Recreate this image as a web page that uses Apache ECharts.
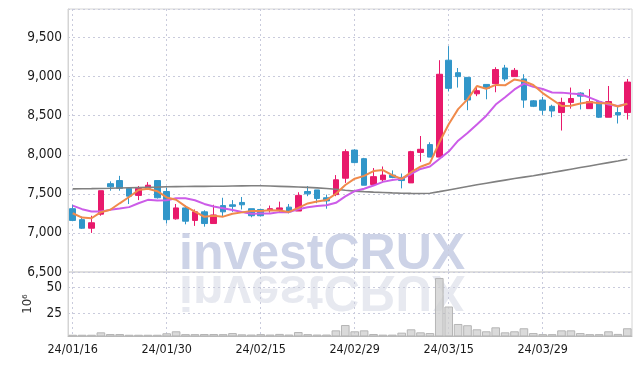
<!DOCTYPE html>
<html><head><meta charset="utf-8">
<script src="https://cdn.jsdelivr.net/npm/echarts@6/dist/echarts.min.js"></script>
<style>html,body{margin:0;padding:0;background:#fff}#c{width:642px;height:366px}</style>
</head><body><div id="c"></div>
<script>
const dates = ['24/01/16','24/01/17','24/01/18','24/01/19','24/01/22','24/01/23','24/01/24','24/01/25','24/01/26','24/01/29',
'24/01/30','24/01/31','24/02/01','24/02/02','24/02/05','24/02/06','24/02/07','24/02/08','24/02/13','24/02/14',
'24/02/15','24/02/16','24/02/19','24/02/20','24/02/21','24/02/22','24/02/23','24/02/26','24/02/27','24/02/28',
'24/02/29','24/03/04','24/03/05','24/03/06','24/03/07','24/03/08','24/03/11','24/03/12','24/03/13','24/03/14',
'24/03/15','24/03/18','24/03/19','24/03/20','24/03/21','24/03/22','24/03/25','24/03/26','24/03/27','24/03/28',
'24/03/29','24/04/01','24/04/02','24/04/03','24/04/04','24/04/05','24/04/08','24/04/09','24/04/11','24/04/12'];
const opens  = [7310,7170,7060,7240,7630,7670,7570,7480,7570,7670, 7530,7180,7320,7160,7270,7120,7350,7360,7390,7310,
                7300,7290,7300,7330,7280,7530,7550,7450,7490,7700, 8060,7950,7620,7680,7740,7710,7640,8030,8130,7970,
                9210,9050,8990,8780,8900,8910,9110,9000,8970,8690, 8700,8620,8540,8670,8790,8590,8680,8480,8540,8540];
const closes = [7160,7060,7130,7540,7590,7570,7470,7570,7610,7450, 7170,7320,7150,7270,7120,7230,7270,7340,7360,7220,
                7220,7310,7320,7270,7480,7500,7440,7410,7680,8040, 7900,7610,7720,7740,7710,7670,8040,8070,7970,9030,
                8850,9000,8700,8820,8850,9090,8970,9080,8700,8620, 8570,8560,8670,8720,8750,8680,8480,8680,8510,8930];
const lows   = [7150,7050,7000,7220,7540,7540,7370,7420,7560,7440, 7120,7170,7110,7090,7080,7120,7210,7270,7300,7200,
                7210,7260,7270,7250,7280,7470,7380,7310,7470,7640, 7890,7610,7610,7640,7700,7570,7640,7910,7970,7970,
                8810,8860,8570,8750,8710,8800,8940,9000,8600,8610, 8510,8480,8310,8590,8580,8590,8470,8480,8400,8450];
const highs  = [7360,7210,7220,7540,7660,7730,7580,7600,7650,7670, 7580,7370,7350,7300,7290,7360,7450,7420,7460,7310,
                7310,7350,7400,7370,7520,7600,7550,7490,7740,8070, 8070,7960,7830,7850,7800,7760,8050,8240,8160,9210,
                9390,9110,8990,8880,8900,9120,9150,9110,9030,8700, 8740,8640,8730,8860,8800,8840,8680,8880,8620,8970];
const ma5  = [7252,7196,7188,7265,7296,7379,7460,7549,7564,7534, 7454,7425,7340,7271,7207,7219,7208,7246,7263,7282,
              7279,7289,7286,7269,7321,7377,7402,7420,7501,7613, 7694,7730,7792,7805,7738,7692,7777,7847,7892,8156,
              8391,8584,8708,8879,8845,8894,8888,8964,8940,8893, 8789,8707,8625,8628,8655,8676,8659,8660,8618,8653];
const ma10 = [7350,7304,7273,7273,7295,7312,7330,7380,7423,7415, 7417,7443,7444,7418,7371,7337,7317,7293,7267,7245,
              7249,7248,7266,7266,7302,7328,7345,7353,7385,7467, 7536,7566,7606,7653,7676,7693,7754,7819,7849,7947,
              8041,8180,8278,8386,8500,8642,8736,8836,8910,8869, 8841,8797,8795,8784,8774,8732,8683,8643,8623,8654];
const ma60 = [7564,7566,7567,7569,7571,7574,7577,7580,7583,7586, 7590,7592,7594,7595,7596,7597,7598,7600,7602,7604,
              7604,7600,7596,7592,7588,7583,7576,7568,7558,7546, 7535,7528,7522,7517,7512,7508,7506,7505,7507,7528,
              7550,7572,7594,7616,7636,7656,7676,7696,7714,7732, 7752,7772,7794,7815,7836,7857,7878,7899,7920,7942];
const volumes = [4.4,4.4,4.4,6.7,5.1,5.1,4.4,4.4,4.4,4.4, 5.8,7.7,5.0,5.0,5.1,5.1,5.0,6.0,4.8,4.6,
                 5.0,4.6,5.2,4.6,7.0,5.0,4.6,4.6,8.6,13.7, 7.7,8.6,5.1,4.5,4.5,6.4,9.6,6.7,6.0,58.7,
                 31.4,14.7,13.5,9.6,7.7,11.5,6.7,7.7,10.6,6.0, 5.0,5.0,8.6,8.6,6.0,5.0,5.0,7.7,5.2,10.6];

const candles = dates.map((d,i)=>[opens[i],closes[i],lows[i],highs[i]]);
const FONT = "'DejaVu Sans Condensed','Liberation Sans Narrow',sans-serif";
const gridLine = {show:true, lineStyle:{color:'#c9cbdc', type:[2,3], width:1}};
const chart = echarts.init(document.getElementById('c'));
chart.setOption({
  animation:false,
  backgroundColor:'#fff',
  grid:[
    {left:68, right:10, top:9, height:263, show:true, borderColor:'#d4d4d4', borderWidth:1},
    {left:68, right:10, top:272, height:64, show:true, borderColor:'#d4d4d4', borderWidth:1}
  ],
  xAxis:[
    {type:'category', gridIndex:0, data:dates, boundaryGap:true,
     axisLine:{show:false}, axisTick:{show:false}, axisLabel:{show:false},
     splitLine:Object.assign({interval:9, alignWithLabel:true}, gridLine)},
    {type:'category', gridIndex:1, data:dates, boundaryGap:true,
     axisLine:{show:true, lineStyle:{color:'#bbbbbb'}}, axisTick:{show:false},
     axisLabel:{interval:9, color:'#1a1a1a', fontSize:12.5, fontFamily:FONT, margin:7},
     splitLine:Object.assign({interval:9, alignWithLabel:true}, gridLine)}
  ],
  yAxis:[
    {type:'value', gridIndex:0, min:6500, max:9865, interval:500,
     axisLine:{show:true, lineStyle:{color:'#d4d4d4'}}, axisTick:{show:false},
     axisLabel:{color:'#1a1a1a', fontSize:13.5, fontFamily:FONT, margin:6, showMaxLabel:false,
       formatter:v=>v.toLocaleString('en-US')},
     splitLine:gridLine},
    {type:'value', gridIndex:1, min:3.2, max:64.4, minInterval:25, maxInterval:25,
     name:'10\u2076', nameLocation:'middle', nameRotate:90, nameGap:34,
     nameTextStyle:{color:'#333', fontSize:13, fontFamily:FONT},
     axisLine:{show:true, lineStyle:{color:'#d4d4d4'}}, axisTick:{show:false},
     axisLabel:{color:'#1a1a1a', fontSize:13.5, fontFamily:FONT, margin:6, showMinLabel:false, showMaxLabel:false,
       formatter:v=>(Math.abs(v%25)<1e-6 ? String(v) : '')},
     splitLine:gridLine}
  ],
  graphic:[
    {type:'text', x:179, y:280, z:0, silent:true,
     style:{text:'investCRUX', font:'bold 50px "Liberation Sans", Arial, sans-serif', fill:'#cdd3e7', verticalAlign:'bottom'}},
    {type:'text', x:179, y:265, scaleY:-1, z:0, silent:true,
     style:{text:'investCRUX', font:'bold 50px "Liberation Sans", Arial, sans-serif', fill:'#e7e9f0', verticalAlign:'bottom'}}
  ],
  series:[
    {type:'candlestick', name:'price', xAxisIndex:0, yAxisIndex:0, data:candles, barWidth:6,
     itemStyle:{color:'#e8196b', color0:'#3196c9', borderColor:'#e8196b', borderColor0:'#3196c9', borderWidth:1}},
    {type:'line', name:'MA60', xAxisIndex:0, yAxisIndex:0, data:ma60, symbol:'none',
     lineStyle:{color:'#808080', width:1.6}},
    {type:'line', name:'MA10', xAxisIndex:0, yAxisIndex:0, data:ma10, symbol:'none',
     lineStyle:{color:'#cc5ce8', width:2}},
    {type:'line', name:'MA5', xAxisIndex:0, yAxisIndex:0, data:ma5, symbol:'none',
     lineStyle:{color:'#f08a4b', width:2}},
    {type:'bar', name:'volume', xAxisIndex:1, yAxisIndex:1, data:volumes, barCategoryGap:'8%',
     itemStyle:{color:'rgba(205,205,205,0.75)', borderColor:'#b5b5b5', borderWidth:1}}
  ]
});
</script></body></html>
